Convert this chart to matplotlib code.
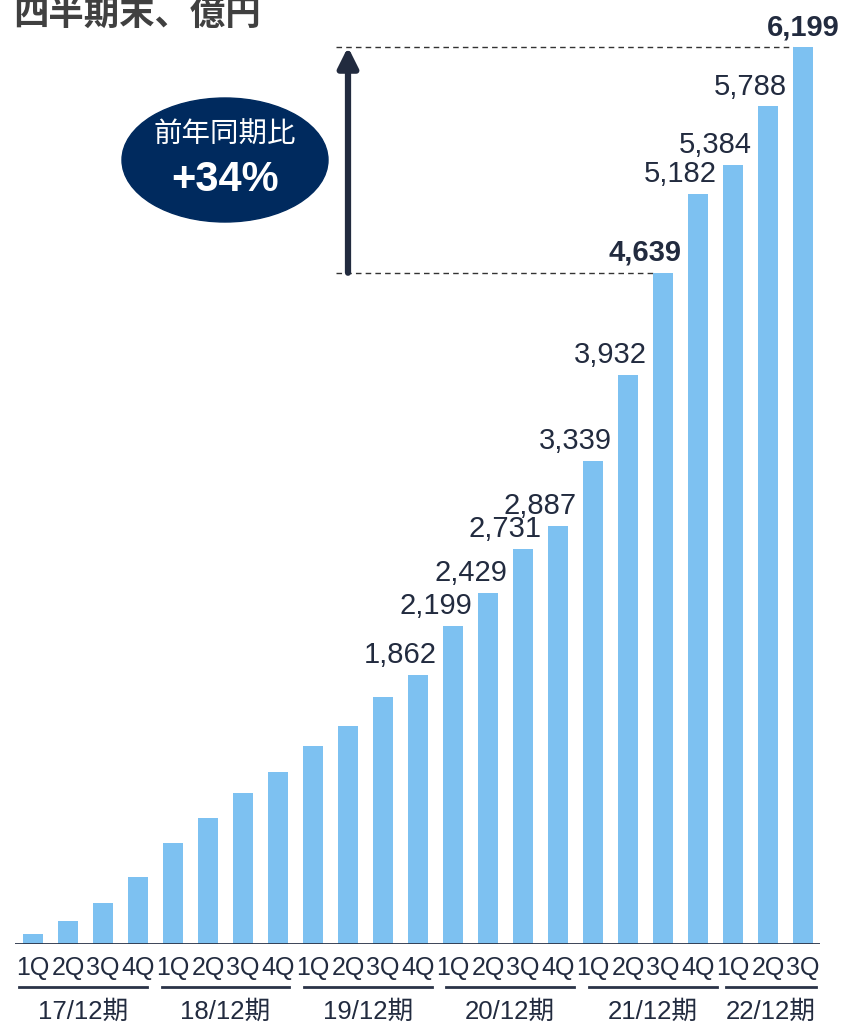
import numpy as np
import matplotlib
matplotlib.use("Agg")
import matplotlib.pyplot as plt
from matplotlib.patches import Ellipse

plt.rcParams["font.family"] = ["Liberation Sans", "Noto Sans CJK JP"]

# quarterly balance, 億円
quarters = ["1Q", "2Q", "3Q", "4Q"] * 5 + ["1Q", "2Q", "3Q"]
values = [69, 161, 285, 465, 696, 869, 1041, 1187, 1368, 1507, 1705,
          1862, 2199, 2429, 2731, 2887, 3339, 3932, 4639, 5182, 5384, 5788, 6199]
periods = ["17/12期", "18/12期", "19/12期", "20/12期", "21/12期", "22/12期"]
period_sizes = [4, 4, 4, 4, 4, 3]
first_labelled = 11
bold_labels = [18, 22]
yoy_text = "+34%"

bar_color = "#7dc1f1"
navy = "#222b3f"

W, H = 842, 1025
fig = plt.figure(figsize=(W / 100, H / 100), dpi=100)

# axes: x in bar index, y in value
x_left_px, x_right_px = 15, 820
base_px, top_px = 944, 47
pitch = 35.0
c0 = 33
xmin = (x_left_px - c0) / pitch
xmax = (x_right_px - c0) / pitch
ytop = base_px / (base_px - top_px) * values[-1]
ax = fig.add_axes([x_left_px / W, (H - base_px) / H, (x_right_px - x_left_px) / W, base_px / H])
ax.set_xlim(xmin, xmax)
ax.set_ylim(0, ytop)
ax.axis("off")

x = np.arange(len(values))
ax.bar(x, values, width=20 / pitch, color=bar_color, zorder=2)
ax.axhline(0, color="#2a3347", lw=2, zorder=3)

# value labels
for i in range(first_labelled, len(values)):
    bold = i in bold_labels
    if i == len(values) - 1:
        xx, ha = i, "center"
    else:
        xx, ha = i + 10 / pitch + 9 / pitch, "right"
    ax.annotate(f"{values[i]:,}", (xx, values[i]), xytext=(0, 8.5),
                textcoords="offset points", ha=ha, va="baseline",
                fontsize=21, color=navy, fontweight="bold" if bold else "normal")

# quarter tick labels
for i, q in enumerate(quarters):
    ax.text(i, -(968 - base_px) / (base_px - top_px) * values[-1], q,
            ha="center", va="center", fontsize=18, color=navy)

# period underlines + labels
to_y = lambda py: (H - py) / H
to_x = lambda px: px / W
line_spans = [(19, 147), (162, 289), (304, 432), (446, 574), (589, 717), (726, 816)]
for p, n, (a, b) in zip(periods, period_sizes, line_spans):
    fig.add_artist(plt.Line2D([to_x(a), to_x(b)], [to_y(987), to_y(987)],
                              color="#2a3347", lw=2))
    fig.text(to_x((a + b) / 2), to_y(1012), p, ha="center", va="center",
             fontsize=18.5, color=navy)

# dashed reference lines
i_prev = bold_labels[0]
for i in (i_prev, len(values) - 1):
    ax.plot([(336 - c0) / pitch, i - 10 / pitch], [values[i], values[i]],
            ls=(0, (4, 3)), color="#333333", lw=1, zorder=1)

# arrow
ax_x = (348 - c0) / pitch
ax.annotate("", xy=(ax_x, values[-1]), xytext=(ax_x, values[i_prev]),
            arrowprops=dict(arrowstyle="-|>,head_length=1.2,head_width=0.6",
                            color=navy, lw=4.5, shrinkA=0, shrinkB=0))

# ellipse badge
fig.add_artist(Ellipse((to_x(225), to_y(160)), 206 / W, 124 / H,
                       transform=fig.transFigure, color="#002a5e", zorder=5))
fig.text(to_x(225), to_y(136), "前年同期比", ha="center", va="center",
         fontsize=20.5, color="white", zorder=6)
fig.text(to_x(225), to_y(180), yoy_text, ha="center", va="center",
         fontsize=30, fontweight="bold", color="white", zorder=6)

# title
fig.text(to_x(13), to_y(25), "四半期末、億円", ha="left", va="baseline",
         fontsize=25.5, fontweight="bold", color="#404040",
         family=["Noto Sans CJK JP"])

fig.savefig("out.png", dpi=100)
